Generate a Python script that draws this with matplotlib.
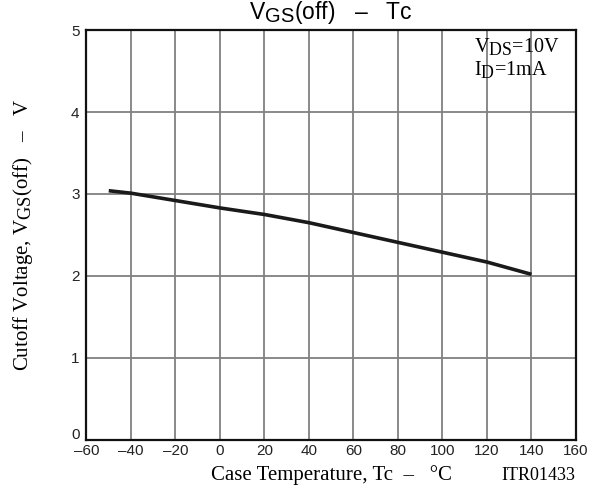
import matplotlib
matplotlib.use("Agg")
import matplotlib.pyplot as plt
import matplotlib._mathtext as mt
from matplotlib.transforms import ScaledTranslation

# Vgs(off) vs case temperature
temp = [-50, -40, -20, 0, 20, 40, 60, 80, 100, 120, 140]
vgs_off = [3.04, 3.01, 2.92, 2.83, 2.75, 2.65, 2.53, 2.41, 2.29, 2.17, 2.02]
xticks = list(range(-60, 161, 20))
yticks = [0, 1, 2, 3, 4, 5]

# subscripts in the datasheet are nearly full size
mt.SHRINK_FACTOR = 0.88

plt.rcParams['font.family'] = 'Liberation Sans'
plt.rcParams['mathtext.fontset'] = 'custom'
plt.rcParams['mathtext.rm'] = 'Liberation Serif'
plt.rcParams['mathtext.sf'] = 'Liberation Sans'

DASH = '\u2013'

fig = plt.figure(figsize=(5.99, 4.88), dpi=100)
ax = fig.add_axes([0.1444, 0.0984, 0.8172, 0.8401])

ax.plot(temp, vgs_off, color='#1a1a1a', lw=2.6, solid_capstyle='butt', zorder=3)

ax.set_xlim(-60, 160)
ax.set_ylim(0, 5)
ax.set_xticks(xticks)
ax.set_yticks(yticks)
ax.set_xticklabels([str(t).replace('-', DASH) for t in xticks])
ax.tick_params(length=0, labelsize=11, colors='#222222')
ax.tick_params(axis='x', pad=3)
ax.tick_params(axis='y', pad=5)
ax.grid(True, color='#808080', lw=1.3)
for s in ax.spines.values():
    s.set_linewidth(1.6)
    s.set_color('#111111')

# lift the "0" label a little, as in the datasheet
lbl0 = ax.get_yticklabels()[0]
lbl0.set_transform(lbl0.get_transform() + ScaledTranslation(0, 5 / 72, fig.dpi_scale_trans))

ax.set_xlabel('Case Temperature, Tc  ' + DASH + '   \u00b0C', family='Liberation Serif',
              fontsize=15, labelpad=5)
ax.set_ylabel(r'Cutoff Voltage, $\mathrm{V_{GS}}$(off)   ' + DASH + '   V',
              family='Liberation Serif', fontsize=15, labelpad=26)
fig.text(331 / 599, 1 - 19 / 488, r'$\mathsf{V_{GS}}$(off)   ' + DASH + '   Tc',
         fontsize=16.5, ha='center', va='baseline')

ax.text(0.792, 0.946, r'$\mathrm{V_{DS}}$=10V', transform=ax.transAxes, ha='left', va='baseline',
        family='Liberation Serif', fontsize=14.5)
ax.text(0.792, 0.890, r'$\mathrm{I_D}$=1mA', transform=ax.transAxes, ha='left', va='baseline',
        family='Liberation Serif', fontsize=14.5)
fig.text(538 / 599, 1 - 476 / 488, 'ITR01433', family='Liberation Serif', fontsize=13,
         ha='center', va='center')

fig.savefig('out.png', dpi=100)
